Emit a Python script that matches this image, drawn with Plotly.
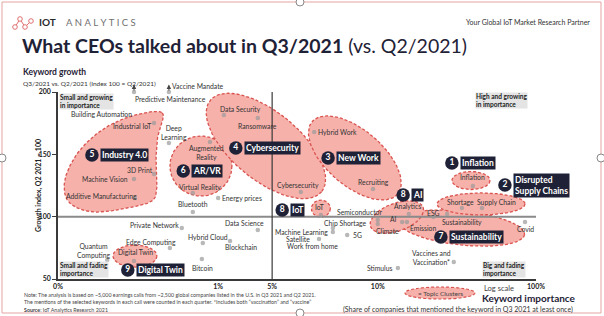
import numpy as np
import plotly.graph_objects as go

# ---------------- data ----------------
keywords = ["Predictive Maintenance", "Vaccine Mandate", "Building Automation", "Industrial IoT", "3D Print",
            "Machine Vision", "Additive Manufacturing", "Deep Learning", "Augmented Reality", "Virtual Reality",
            "Bluetooth", "Energy prices", "Data Security", "Ransomware", "Cybersecurity", "Hybrid Work",
            "Recruiting", "IoT", "Semiconductor", "Chip Shortage", "Machine Learning", "Satellite", "5G",
            "Work from home", "Data Science", "Private Network", "Hybrid Cloud", "Blockchain", "Edge Computing",
            "Quantum Computing", "Digital Twin", "Bitcoin", "Analytics", "AI", "Climate", "Emission", "ESG",
            "Sustainability", "Shortage", "Supply Chain", "Inflation", "Covid", "Vaccines and Vaccination*",
            "Stimulus"]
# keyword importance (position on the stylised log axis, 0..100)
importance = [15.9, 23.2, 9.2, 20.1, 20.1, 15.9, 16.1, 23.2, 31.8, 28.2,
              28.2, 33.5, 34.7, 41.8, 50.8, 53.6, 65.9, 55.0, 66.9, 57.5,
              57.5, 54.6, 60.5, 53.3, 41.8, 25.9, 30.3, 36.0, 23.4, 10.3,
              15.9, 30.1, 73.4, 72.0, 66.9, 73.0, 78.5, 81.4, 84.5, 88.7,
              86.8, 97.7, 82.8, 71.1]
# growth index (Q2 2021 = 100)
growth = [200, 200, 182.4, 175.1, 134.2, 130.2, 115.0, 159.1, 159.9, 119.0,
          103.7, 115.0, 181.5, 179.1, 119.8, 167.9, 122.2, 101.3, 97.3, 90.9,
          87.7, 82.1, 85.3, 76.5, 89.3, 90.9, 78.9, 80.5, 74.9, 65.2,
          64.4, 66.0, 102.1, 95.7, 94.1, 95.7, 99.7, 102.1, 106.9, 106.9,
          124.6, 95.7, 63.6, 58.8]
above_scale = ["Predictive Maintenance", "Vaccine Mandate"]

x_tick_vals = [0, 33.5, 44.8, 66.9, 100]
x_tick_text = ["0%", "1%", "5%", "10%", "100%"]
y_tick_vals = [50, 100, 150, 200]

cluster_nums = ["5", "6", "4", "3", "8", "8", "1", "2", "7", "9"]
cluster_names = ["Industry 4.0", "AR/VR", "Cybersecurity", "New Work", "IoT", "AI", "Inflation",
                 "Disrupted<br>Supply Chains", "Sustainability", "Digital Twin"]
cluster_badge_x = [7.1, 26.2, 37.2, 56.5, 46.9, 72.2, 82.4, 93.5, 80.1, 14.6]
cluster_badge_y = [149.5, 136.6, 155.1, 147.1, 105.3, 117.4, 143.0, 125.4, 83.7, 57.2]

# ---------------- styling / layout geometry ----------------
W, H = 604, 316
ML, MR, MT, MB = 58, 68, 92, 37
PW, PH = W - ML - MR, H - MT - MB
XR, YR = (0, 100), (50, 200)
PX_X = PW / (XR[1] - XR[0])
PX_Y = PH / (YR[1] - YR[0])

FONT = "Lato"
DARK = "#1f2236"
FILL = "#f6b1ab"
EDGE = "#d9534f"

label_text = {"Deep Learning": "Deep<br>Learning", "Augmented Reality": "Augmented<br>Reality",
              "Quantum Computing": "Quantum<br>Computing",
              "Vaccines and Vaccination*": "Vaccines and<br>Vaccination*"}
hidden_marker = {"Building Automation", "Work from home"}
label_off = {  # (dx, dy) in screen pixels from the marker to the label centre
    "Predictive Maintenance": (36, 7), "Vaccine Mandate": (29, -6), "Building Automation": (0, 0),
    "Industrial IoT": (-22, 3), "3D Print": (-14, -4), "Machine Vision": (-29, 0),
    "Additive Manufacturing": (-33, -2), "Deep Learning": (5, -10), "Augmented Reality": (-4, 11),
    "Virtual Reality": (7, -6), "Bluetooth": (0, -8), "Energy prices": (24, 0), "Data Security": (17, -6),
    "Ransomware": (0, 8), "Cybersecurity": (-3, -7), "Hybrid Work": (23, 0), "Recruiting": (0, -7),
    "IoT": (-1, -8), "Semiconductor": (-18, -8), "Chip Shortage": (13, -5), "Machine Learning": (-31, 0),
    "Satellite": (-21, 0), "5G": (10, 0), "Work from home": (0, 0), "Data Science": (-13, -7),
    "Private Network": (-27, -3), "Hybrid Cloud": (5, -6), "Blockchain": (11, 6), "Edge Computing": (-19, -6),
    "Quantum Computing": (-14, -10), "Digital Twin": (1, -9), "Bitcoin": (1, 9), "Analytics": (-1, -8),
    "AI": (-9, -3), "Climate": (10, 7), "Emission": (16, 6), "ESG": (0, -4), "Sustainability": (15, 8),
    "Shortage": (-1, -6), "Supply Chain": (15, -6), "Inflation": (0, -9), "Covid": (0, 7),
    "Vaccines and Vaccination*": (-22, -5), "Stimulus": (-18, 0)}

# topic cluster outlines: ellipses (centre in data units, semi-axes in px, rotation in deg)
cluster_ellipses = [
    (29.9, 140.6, 31, 30, 0),      # AR/VR
    (43.5, 156.7, 72, 34, 39.4),   # Cybersecurity
    (62.1, 147.1, 56, 28, 40.3),   # New Work
    (55.0, 106.5, 9.5, 8.5, 0),    # IoT
    (84.5, 90.9, 63, 17, 6),       # Sustainability
    (70.9, 99.7, 28, 14, -20),     # AI
    (88.5, 110.2, 44, 11, 0),      # Disrupted supply chains
    (86.4, 129.0, 19, 9, 0),       # Inflation
    (16.1, 68.4, 22, 11, 0),       # Digital Twin
]
industry_blob = [(21.8, 183.2), (20.9, 165.5), (20.5, 145.4), (20.7, 125.4), (19.9, 113.4),
                 (15.7, 107.8), (8.2, 103.7), (3.6, 107.8), (1.5, 117.4), (1.7, 133.4),
                 (4.6, 153.5), (9.8, 171.1), (16.1, 181.5)]


def ellipse(cx, cy, a, b, ang, n=90):
    t = np.linspace(0, 2 * np.pi, n)
    ex, ey = a * np.cos(t), b * np.sin(t)
    th = np.radians(ang)
    px = ex * np.cos(th) - ey * np.sin(th)
    py = ex * np.sin(th) + ey * np.cos(th)
    return cx + px / PX_X, cy - py / PX_Y


def closed_spline(pts, per=16):
    p = np.array(pts)
    n = len(p)
    out = []
    for i in range(n):
        p0, p1, p2, p3 = p[(i - 1) % n], p[i], p[(i + 1) % n], p[(i + 2) % n]
        for t in np.linspace(0, 1, per, endpoint=False):
            t2, t3 = t * t, t * t * t
            out.append(0.5 * ((2 * p1) + (-p0 + p2) * t + (2 * p0 - 5 * p1 + 4 * p2 - p3) * t2 +
                              (-p0 + 3 * p1 - 3 * p2 + p3) * t3))
    out.append(out[0])
    out = np.array(out)
    return out[:, 0], out[:, 1]


def paper(px, py):
    return (px - ML) / PW, (H - MB - py) / PH


fig = go.Figure()

cluster_line = dict(color=EDGE, width=1.3, dash="3px,2px")
bx, by = closed_spline(industry_blob)
fig.add_trace(go.Scatter(x=bx, y=by, mode="lines", fill="toself", fillcolor=FILL, line=cluster_line,
                         hoverinfo="skip", showlegend=False))
for c in cluster_ellipses:
    ex, ey = ellipse(*c)
    fig.add_trace(go.Scatter(x=ex, y=ey, mode="lines", fill="toself", fillcolor=FILL, line=cluster_line,
                             hoverinfo="skip", showlegend=False))

# quadrant dividers
fig.add_trace(go.Scatter(x=[XR[0], XR[1]], y=[100, 100], mode="lines", line=dict(color="#8a8a8a", width=2),
                         hoverinfo="skip", showlegend=False))
fig.add_trace(go.Scatter(x=[x_tick_vals[2]] * 2, y=[YR[0], YR[1]], mode="lines",
                         line=dict(color="#3a3a3a", width=1.2), hoverinfo="skip", showlegend=False))

# keyword markers
msize = [0 if k in hidden_marker else 4.5 for k in keywords]
fig.add_trace(go.Scatter(x=importance, y=growth, mode="markers", cliponaxis=False,
                         marker=dict(size=msize, color="#9a9a9a", line=dict(width=0)),
                         hovertext=keywords, showlegend=False))

# badges
fig.add_trace(go.Scatter(x=cluster_badge_x, y=cluster_badge_y, mode="markers+text", text=cluster_nums,
                         textposition="middle center", cliponaxis=False,
                         textfont=dict(family=FONT, size=8.5, color="white", weight="bold"),
                         marker=dict(size=13.5, color=DARK, line=dict(width=0)), showlegend=False))

ann = []
for k, x, y in zip(keywords, importance, growth):
    dx, dy = label_off[k]
    ann.append(dict(x=x, y=y, xref="x", yref="y", text=label_text.get(k, k), showarrow=False,
                    xshift=dx, yshift=-dy, font=dict(family=FONT, size=6.8, color="#333333")))
for k, x, y in zip(keywords, importance, growth):
    if k in above_scale:
        ann.append(dict(x=x, y=y + 6, xref="x", yref="y", ax=x, ay=y, axref="x", ayref="y", text="",
                        showarrow=True, arrowhead=2, arrowsize=0.9, arrowwidth=1, arrowcolor="#444",
                        standoff=0, startstandoff=0))
for n, x, y in zip(cluster_names, cluster_badge_x, cluster_badge_y):
    ann.append(dict(x=x, y=y, xref="x", yref="y", text=n, showarrow=False, xanchor="left", xshift=8,
                    align="left", bgcolor=DARK, borderpad=1,
                    font=dict(family=FONT, size=8.5, color="white", weight="bold")))

# quadrant captions
quad = [("Small and growing<br>in importance", 59, 93, "top"),
        ("High and growing<br>in importance", 475, 92, "top"),
        ("Small and fading<br>importance", 59, 278, "bottom"),
        ("Big and fading<br>importance", 482, 278, "bottom")]
for t, px, py, ya in quad:
    x, y = paper(px, py)
    ann.append(dict(x=x, y=y, xref="paper", yref="paper", text=t, showarrow=False, xanchor="left",
                    yanchor=ya, align="left", bgcolor="#e4e4e4", borderpad=0,
                    font=dict(family=FONT, size=6.5, color="#222", weight="bold")))


def txt(s, px, py, size, xa="left", bold=False, color="#333", angle=0, align="left"):
    x, y = paper(px, py)
    ann.append(dict(x=x, y=y, xref="paper", yref="paper", text=s, showarrow=False, xanchor=xa,
                    yanchor="middle", textangle=angle, align=align,
                    font=dict(family=FONT, size=size, color=color, weight="bold" if bold else "normal")))


# header
txt("<b>IOT</b>", 37, 22, 10, color="#2a2a2a")
txt("\u2005".join("ANALYTICS"), 64, 22, 9.5, color="#707070")
txt("Your Global IoT Market Research Partner", 592, 22, 7, xa="right", color="#333")
txt("<b>What CEOs talked about in Q3/2021</b> (vs. Q2/2021)", 20, 46, 19.5, color=DARK)
txt("Keyword growth", 21, 72, 8.5, bold=True, color=DARK)
txt("Q3/2021 vs. Q2/2021 (Index 100 = Q2/2021)", 21, 83, 6.5, color="#333")
# axis titles and footer
txt("Growth index, Q2 2021 = 100", 38, 186, 7, xa="center", bold=True, color="#222", angle=-90)
txt("Log scale", 482, 288, 7.5, color="#444")
txt("Keyword importance", 529, 298, 10, xa="center", bold=True, color=DARK)
txt("(Share of companies that mentioned the keyword in Q3 2021 at least once)", 458, 309, 7,
    xa="center", color="#333")
txt("Note: The analysis is based on ~5,000 earnings calls from ~2,500 global companies listed in the U.S. "
    "in Q3 2021 and Q2 2021.", 22, 295, 5.3, color="#444")
txt("The mentions of the selected keywords in each call were counted in each quarter. "
    "*Includes both \u201cvaccination\u201d and \u201cvaccine\u201d", 22, 302, 5.3, color="#444")
txt("<b>Source</b>: IoT Analytics Research 2021", 22, 310, 5.3, color="#444")
txt("= Topic Clusters", 440, 293, 6.5, xa="center", color="#444")

shapes = []
# legend ellipse for topic clusters
lx0, ly0 = paper(405, 299)
lx1, ly1 = paper(475, 287)
shapes.append(dict(type="circle", xref="paper", yref="paper", x0=lx0, y0=ly0, x1=lx1, y1=ly1,
                   fillcolor=FILL, line=dict(color=EDGE, width=1.2, dash="3px,2px"), layer="below"))
# slide frame and handles
fx0, fy0 = paper(2, 313)
fx1, fy1 = paper(601, 2)
shapes.append(dict(type="rect", xref="paper", yref="paper", x0=fx0, y0=fy0, x1=fx1, y1=fy1,
                   line=dict(color="#e6a3a3", width=1)))
for hx, hy in [(300, 2), (601, 158), (300, 313), (2, 158)]:
    a0, b0 = paper(hx - 4, hy + 4)
    a1, b1 = paper(hx + 4, hy - 4)
    shapes.append(dict(type="circle", xref="paper", yref="paper", x0=a0, y0=b0, x1=a1, y1=b1,
                       fillcolor="white", line=dict(color="#888", width=1)))
# logo icon
nodes = [(15, 27), (20, 19), (25, 27), (31, 21)]
for (p, q), (r, s) in zip(nodes[:-1], nodes[1:]):
    a0, b0 = paper(p, q)
    a1, b1 = paper(r, s)
    shapes.append(dict(type="line", xref="paper", yref="paper", x0=a0, y0=b0, x1=a1, y1=b1,
                       line=dict(color="#e07070", width=1)))
for p, q in nodes:
    a0, b0 = paper(p - 2.3, q + 2.3)
    a1, b1 = paper(p + 2.3, q - 2.3)
    shapes.append(dict(type="circle", xref="paper", yref="paper", x0=a0, y0=b0, x1=a1, y1=b1,
                       fillcolor="white", line=dict(color="#e07070", width=1)))

fig.update_layout(
    width=W, height=H, autosize=False,
    margin=dict(l=ML, r=MR, t=MT, b=MB, pad=0),
    paper_bgcolor="white", plot_bgcolor="white",
    showlegend=False,
    annotations=ann, shapes=shapes,
    xaxis=dict(range=list(XR), tickvals=x_tick_vals, ticktext=x_tick_text, showgrid=False, zeroline=False,
               showline=True, linecolor="#3a3a3a", linewidth=1.5, ticks="",
               tickfont=dict(family=FONT, size=7, color="#222", weight="bold")),
    yaxis=dict(range=list(YR), tickvals=y_tick_vals, showgrid=False, zeroline=False,
               showline=True, linecolor="#3a3a3a", linewidth=1.5, ticks="outside", ticklen=4,
               tickcolor="#3a3a3a", tickfont=dict(family=FONT, size=7, color="#222", weight="bold")),
)

fig.write_html("out.html")
